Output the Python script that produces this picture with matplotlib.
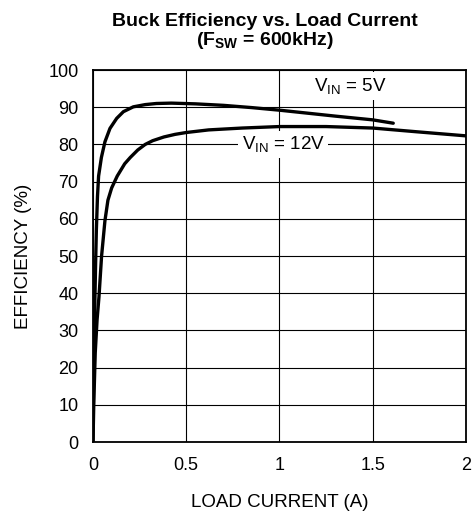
import matplotlib
matplotlib.use('Agg')
import matplotlib.pyplot as plt

plt.rcParams['font.family'] = ['Liberation Sans', 'DejaVu Sans']

# load current (A) / efficiency (%)
i_5v = [0, 0.003, 0.006, 0.01, 0.014, 0.018, 0.024, 0.03, 0.045, 0.064,
        0.091, 0.127, 0.163, 0.216, 0.28, 0.34, 0.42, 0.55, 0.7, 0.85,
        1.0, 1.15, 1.3, 1.5, 1.61]
eff_5v = [0, 15, 28, 38, 48, 57, 66, 71.5, 76.5, 80.7,
          84.3, 87, 88.8, 90.1, 90.7, 91, 91.1, 90.9, 90.5, 89.9,
          89.2, 88.4, 87.6, 86.6, 85.7]

i_12v = [0, 0.004, 0.012, 0.022, 0.032, 0.046, 0.064, 0.08, 0.1, 0.13,
         0.17, 0.2, 0.24, 0.28, 0.32, 0.38, 0.44, 0.5, 0.62, 0.8,
         1.0, 1.25, 1.5, 1.735, 2.0]
eff_12v = [0, 10, 24, 33, 39, 50, 59.5, 65, 68.3, 71.5,
           74.8, 76.5, 78.5, 80.0, 81.0, 82.0, 82.7, 83.2, 83.9, 84.4,
           84.8, 84.8, 84.4, 83.4, 82.3]

x_ticks = [0, 0.5, 1, 1.5, 2]
x_tick_labels = ['0', '0.5', '1', '1.5', '2']
y_ticks = list(range(0, 101, 10))


def main():
    fig = plt.figure(figsize=(4.75, 5.14), dpi=100)
    ax = fig.add_axes([0.1958, 0.140, 0.7852, 0.7238])

    for xs, ys in ((i_5v, eff_5v), (i_12v, eff_12v)):
        ax.plot(xs, ys, color='black', linewidth=2.4,
                solid_capstyle='round', solid_joinstyle='round', zorder=3)

    ax.set_xlim(0, 2)
    ax.set_ylim(0, 100)
    ax.set_xticks(x_ticks)
    ax.set_xticklabels(x_tick_labels)
    ax.set_yticks(y_ticks)
    ax.tick_params(length=0, labelsize=13)
    ax.tick_params(axis='x', pad=11)
    ax.tick_params(axis='y', pad=10.5)
    ax.grid(True, color='black', linewidth=0.8)
    ax.set_axisbelow(True)
    for sp in ax.spines.values():
        sp.set_linewidth(1.3)

    ax.set_xlabel('LOAD CURRENT (A)', fontsize=13.5, labelpad=14)
    ax.set_ylabel('EFFICIENCY (%)', fontsize=13.5, labelpad=12)

    box = dict(facecolor='white', edgecolor='none', pad=2.5)
    ax.text(1.378, 95.7, '$\\mathregular{V_{IN}}$ = 5V', fontsize=13.5,
            ha='center', va='center', bbox=box, zorder=4)
    ax.text(1.02, 80, '$\\mathregular{V_{IN}}$ = 12V', fontsize=13.5,
            ha='center', va='center', bbox=box, zorder=4)

    fig.text(265 / 475, 1 - 21 / 514, 'Buck Efficiency vs. Load Current',
             fontsize=14, fontweight='bold', ha='center', va='center')
    fig.text(265 / 475, 1 - 41 / 514,
             '(F$\\mathregular{_{SW}}$ = 600kHz)',
             fontsize=14, fontweight='bold', ha='center', va='center')

    fig.savefig('out.png', dpi=100)


if __name__ == '__main__':
    main()
